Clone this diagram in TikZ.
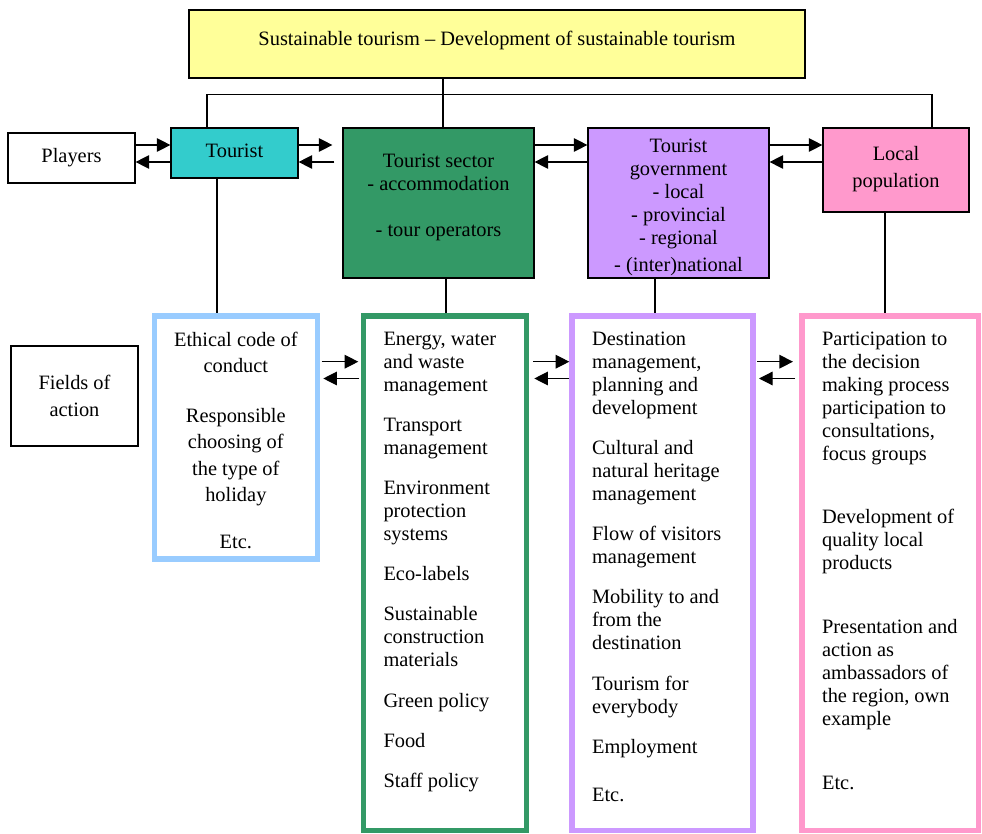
\documentclass[tikz,border=0pt]{standalone}
\usepackage{fontspec}
\setmainfont{Liberation Serif}
\usetikzlibrary{arrows.meta}
\definecolor{titleyellow}{HTML}{FFFF99}
\definecolor{touristcyan}{HTML}{33CCCC}
\definecolor{sectorgreen}{HTML}{339966}
\definecolor{govpurple}{HTML}{CC99FF}
\definecolor{localpink}{HTML}{FF99CC}
\definecolor{tourblue}{HTML}{99CCFF}
\tikzstyle{actor} = [rectangle, draw=black, line width=0.6pt, inner sep=0pt]
\tikzstyle{field} = [rectangle, line width=2.75pt, fill=white, inner sep=0pt]
\tikzstyle{items} = [inner sep=0pt, align=left, anchor=north west, xshift=11.2pt, yshift=-9pt]
\tikzstyle{flow} = [line width=0.6pt, -{Triangle[length=6.8pt,width=6.8pt]}]
\tikzstyle{link} = [line width=0.6pt]

\begin{document}
\begin{tikzpicture}[x=0.5pt, y=-0.5pt, font=\fontsize{10.2}{11.5}\selectfont]

            \useasboundingbox (0,0) rectangle (982,834);

            %% players

            \node (title) [actor, fill=titleyellow, minimum width=308pt, minimum height=34pt] at (497,44) {};
            \node (titletxt) [yshift=2pt] at (title) {Sustainable tourism – Development of sustainable tourism};

            \node (players) [actor, minimum width=63.5pt, minimum height=25pt] at (71.5,158) {\raisebox{1.5pt}{Players}};
            \node (tourist) [actor, fill=touristcyan, minimum width=63.5pt, minimum height=25pt] at (234.5,153) {\raisebox{2pt}{Tourist}};

            \node (sector) [actor, fill=sectorgreen, minimum width=95.5pt, minimum height=75pt] at (438.5,203) {};
            \node (sectortxt) [align=center, yshift=2.75pt] at (sector) {Tourist sector\\- accommodation\\[11.5pt]- tour operators};

            \node (gov) [actor, fill=govpurple, minimum width=90.5pt, minimum height=75pt] at (678.5,203) {};
            \node (govtxt) [align=center, yshift=-2.25pt] at (gov) {Tourist\\government\\- local\\- provincial\\- regional\\[2pt]- (inter)national};

            \node (localpop) [actor, fill=localpink, minimum width=73pt, minimum height=42pt] at (896,170) {};
            \node (localtxt) [align=center, yshift=0.5pt] at (localpop) {Local\\[1.65pt]population};

            %% fields of action

            \node (fields) [actor, align=center, minimum width=63.5pt, minimum height=50pt] at (74.5,396) {Fields of\\[1.65pt]action};

            \node (ftourist) [field, draw=tourblue, minimum width=81.4pt, minimum height=121.45pt] at (235.85,437.5) {};
            \node (fsector) [field, draw=sectorgreen, minimum width=81.55pt, minimum height=257.1pt] at (445,573.2) {};
            \node (fgov) [field, draw=govpurple, minimum width=90.45pt, minimum height=257.1pt] at (662.5,573.2) {};
            \node (flocal) [field, draw=localpink, minimum width=88.1pt, minimum height=257.1pt] at (890.15,573.2) {};

            \node (ftouristtxt) [align=center, inner sep=0pt, anchor=north, yshift=-9.1pt, font=\fontsize{10.2}{13.1}\selectfont] at (ftourist.north) {Ethical code of\\conduct\\[12pt]Responsible\\choosing of\\the type of\\holiday\\[10.3pt]Etc.};

            \node (fsectortxt) [items] at (fsector.north west) {Energy, water\\and waste\\management\\[8.6pt]Transport\\management\\[8.6pt]Environment\\protection\\systems\\[8.6pt]Eco-labels\\[8.6pt]Sustainable\\construction\\materials\\[8.6pt]Green policy\\[8.6pt]Food\\[8.6pt]Staff policy};

            \node (fgovtxt) [items] at (fgov.north west) {Destination\\management,\\planning and\\development\\[8.6pt]Cultural and\\natural heritage\\management\\[8.6pt]Flow of visitors\\management\\[8.6pt]Mobility to and\\from the\\destination\\[8.6pt]Tourism for\\everybody\\[8.6pt]Employment\\[12.5pt]Etc.};

            \node (flocaltxt) [items] at (flocal.north west) {Participation to\\the decision\\making process\\participation to\\consultations,\\focus groups\\[20.3pt]Development of\\quality local\\products\\[20.3pt]Presentation and\\action as\\ambassadors of\\the region, own\\example\\[20.5pt]Etc.};

            %% links

            \coordinate (busL) at (207,94.5);
            \coordinate (busM) at (443,94.5);
            \coordinate (busR) at (932,94.5);
            \draw [link] (title.south -| busM) -- (sector.north -| busM);
            \draw [link] (tourist.north -| busL) |- (busR) -- (localpop.north -| busR);

            \coordinate (dropT) at (217,0);
            \coordinate (dropS) at (446,0);
            \coordinate (dropG) at (655,0);
            \coordinate (dropL) at (885,0);
            \draw [link] (tourist.south -| dropT) -- (ftourist.north -| dropT);
            \draw [link] (sector.south -| dropS) -- (fsector.north -| dropS);
            \draw [link] (gov.south -| dropG) -- (fgov.north -| dropG);
            \draw [link] (localpop.south -| dropL) -- (flocal.north -| dropL);

            %% arrows

            \coordinate (rowA) at (0,145);
            \coordinate (rowB) at (0,162);
            \draw [flow] (players.east |- rowA) -- (tourist.west |- rowA);
            \draw [flow] (tourist.west |- rowB) -- (players.east |- rowB);
            \draw [flow, shorten >=5pt] (tourist.east |- rowA) -- (sector.west |- rowA);
            \draw [flow, shorten <=4pt] (sector.west |- rowB) -- (tourist.east |- rowB);
            \draw [flow] (sector.east |- rowA) -- (gov.west |- rowA);
            \draw [flow] (gov.west |- rowB) -- (sector.east |- rowB);
            \draw [flow] (gov.east |- rowA) -- (localpop.west |- rowA);
            \draw [flow] (localpop.west |- rowB) -- (gov.east |- rowB);

            \coordinate (rowC) at (0,361.7);
            \coordinate (rowD) at (0,378.5);
            \draw [flow, shorten <=0.85pt, shorten >=1.2pt] (ftourist.east |- rowC) -- (fsector.west |- rowC);
            \draw [flow, shorten <=0.7pt, shorten >=1.65pt] (fsector.west |- rowD) -- (ftourist.east |- rowD);
            \draw [flow, shorten <=2pt] (fsector.east |- rowC) -- (fgov.west |- rowC);
            \draw [flow, shorten >=2.5pt] (fgov.west |- rowD) -- (fsector.east |- rowD);
            \draw [flow, shorten <=0.65pt, shorten >=3.15pt] (fgov.east |- rowC) -- (flocal.west |- rowC);
            \draw [flow, shorten <=2.15pt, shorten >=1.65pt] (flocal.west |- rowD) -- (fgov.east |- rowD);

        \end{tikzpicture}
\end{document}
